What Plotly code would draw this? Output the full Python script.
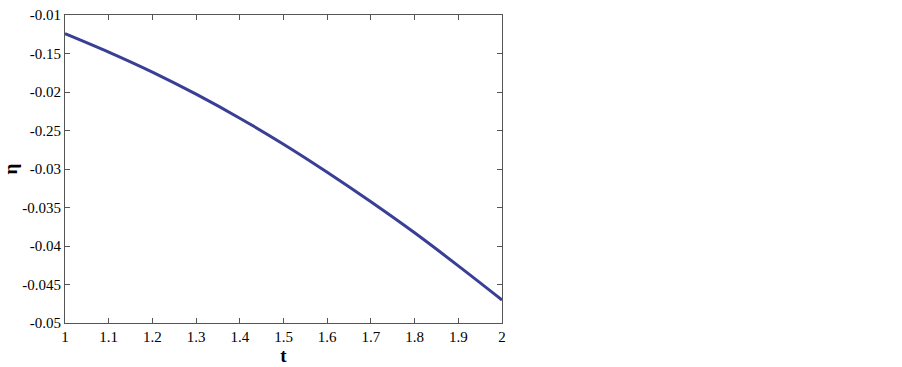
import plotly.graph_objects as go

t_values = [1.0, 1.1, 1.2, 1.3, 1.4, 1.5, 1.6, 1.7, 1.8, 1.9, 2.0]
eta_values = [-0.01241, -0.01481, -0.01741, -0.02028, -0.02340, -0.02678,
              -0.03042, -0.03426, -0.03829, -0.04258, -0.04701]

x_tick_vals = [1.0, 1.1, 1.2, 1.3, 1.4, 1.5, 1.6, 1.7, 1.8, 1.9, 2.0]
x_tick_text = ["1", "1.1", "1.2", "1.3", "1.4", "1.5", "1.6", "1.7", "1.8", "1.9", "2"]
y_tick_vals = [-0.01, -0.015, -0.02, -0.025, -0.03, -0.035, -0.04, -0.045, -0.05]
y_tick_text = ["-0.01", "-0.15", "-0.02", "-0.25", "-0.03", "-0.035", "-0.04", "-0.045", "-0.05"]

fig = go.Figure()
fig.add_trace(go.Scatter(
    x=t_values, y=eta_values, mode="lines",
    line=dict(color="#3a3f96", width=3, shape="spline"),
    showlegend=False, hoverinfo="skip",
))

serif = "Liberation Serif, Times New Roman, serif"
fig.update_layout(
    width=902, height=367,
    margin=dict(l=65, r=400, t=15, b=44),
    paper_bgcolor="white", plot_bgcolor="white",
    font=dict(family=serif, size=15, color="black"),
)
fig.update_xaxes(
    range=[1, 2], tickvals=x_tick_vals, ticktext=x_tick_text,
    ticks="inside", ticklen=5, tickcolor="#555", tickwidth=1,
    showline=True, linecolor="#555", linewidth=1, mirror="ticks",
    showgrid=False, zeroline=False, automargin=False,
    tickfont=dict(family=serif, size=15, color="black"),
    title=dict(text="<b>t</b>", font=dict(size=19, family=serif, color="black"), standoff=0),
)
fig.update_yaxes(
    range=[-0.05, -0.01], tickvals=y_tick_vals, ticktext=y_tick_text,
    ticks="inside", ticklen=5, tickcolor="#555", tickwidth=1,
    showline=True, linecolor="#555", linewidth=1, mirror="ticks",
    showgrid=False, zeroline=False, automargin=False,
    tickfont=dict(family=serif, size=15, color="black"),
    title=dict(text="<b>η</b>", font=dict(size=19, family=serif, color="black"), standoff=2),
)

fig.write_html(
    "out.html",
    config={"displayModeBar": False},
    post_script="document.body.style.margin='0';document.body.style.overflow='hidden';",
)
